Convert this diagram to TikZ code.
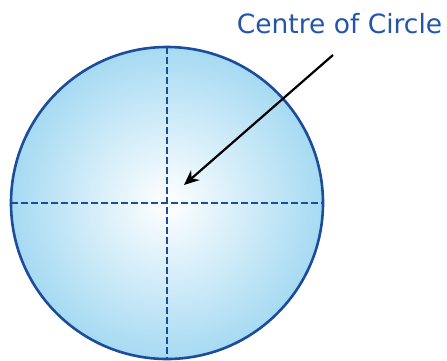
\documentclass[tikz,border=0pt]{standalone}
\usepackage{fontspec}
\setmainfont{DejaVu Sans}
\usetikzlibrary{arrows.meta}
\definecolor{rim}{HTML}{1C4C9C}
\definecolor{fillout}{HTML}{A6DAF2}
\definecolor{txtblue}{HTML}{2356A8}
\tikzset{
  axis/.style={draw=rim, line width=2.8pt, dash pattern=on 6.5pt off 3.5pt},
  ptr/.style={draw=black, line width=2.2pt, -{Stealth[length=15pt,width=13pt]}},
}
\begin{document}
\begin{tikzpicture}[x=1pt,y=-1pt]
\useasboundingbox (0,0) rectangle (447,360);
\coordinate (c) at (167,203);
\shade[inner color=white, outer color=fillout] (c) circle (156);
\coordinate (t) at (167,47);
\coordinate (b) at (167,359);
\coordinate (l) at (11,203);
\coordinate (r) at (323,203);
\draw[axis] (t) -- (b);
\draw[axis] (l) -- (r);
\draw[draw=rim, line width=2.6pt] (c) circle (156);
\node[anchor=base, text=txtblue, font=\fontsize{26.5}{30}\selectfont, inner sep=0pt] (lbl) at (339.5,33) {Centre of Circle};
\coordinate (as) at (333,55);
\coordinate (ae) at (184,185);
\draw[ptr] (as) -- (ae);
\end{tikzpicture}
\end{document}
